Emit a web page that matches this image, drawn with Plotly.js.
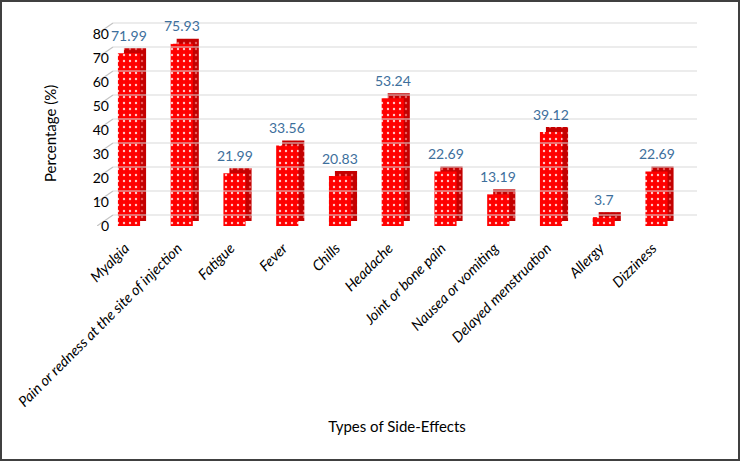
<!DOCTYPE html>
<html>
<head>
<meta charset="utf-8">
<script src="https://cdn.plot.ly/plotly-3.0.1.min.js"></script>
<style>
  html, body { margin: 0; padding: 0; background: #fff; }
  #wrap { position: relative; width: 740px; height: 461px; }
  #chart { width: 740px; height: 461px; }
  #frame { position: absolute; left: 0; top: 0; width: 740px; height: 461px; box-sizing: border-box; border: 2px solid #404040; pointer-events: none; }
</style>
</head>
<body>
<div id="wrap"><div id="chart"></div><div id="frame"></div></div>
<script>
// ---- data ----
const categories = [
  "Myalgia",
  "Pain or redness at the site of injection",
  "Fatigue",
  "Fever",
  "Chills",
  "Headache",
  "Joint or bone pain",
  "Nausea or vomiting",
  "Delayed menstruation",
  "Allergy",
  "Dizziness"
];
const values = [71.99, 75.93, 21.99, 33.56, 20.83, 53.24, 22.69, 13.19, 39.12, 3.7, 22.69];
const valueLabels = ["71.99", "75.93", "21.99", "33.56", "20.83", "53.24", "22.69", "13.19", "39.12", "3.7", "22.69"];
const yTicks = [0, 10, 20, 30, 40, 50, 60, 70, 80];
const xTitle = "Types of Side-Effects";
const yTitle = "Percentage (%)";

// ---- geometry (pixels) ----
const W = 740, H = 461, L = 30, R = 10, T = 5, B = 5;
const PW = W - L - R, PH = H - T - B;
const fx = px => (px - L) / PW;
const fy = py => (H - B - py) / PH;
const FONT = "Lato, 'Open Sans', sans-serif";
const catPx = 52.75;            // pixels per category
const firstCenterPx = 129;      // pixel x of first category centre
const pxPerUnit = 2.4;          // vertical pixels per percentage point
const baselinePx = 226;
const xLeftPx = 97, wallLeftPx = 113, wallRightPx = 697;
const toX = px => (px - firstCenterPx) / catPx;
const depthX = 6 / catPx;
const depthUp = 5 / pxPerUnit;
const wallShift = 11 / pxPerUnit;
const yMax = 85;
const GRID = "#d9d9d9";

const idx = categories.map((c, i) => i);

// back-wall grid lines and side-wall slanted segments, built from tick values
const wallX = [], wallY = [], sideX = [], sideY = [];
yTicks.forEach(t => {
  wallX.push(toX(wallLeftPx), toX(wallRightPx), null); wallY.push(t + wallShift, t + wallShift, null);
  sideX.push(toX(xLeftPx), toX(wallLeftPx), null); sideY.push(t, t + wallShift, null);
});

const traces = [
  { type: "scatter", x: wallX, y: wallY, mode: "lines",
    line: { color: GRID, width: 1 }, hoverinfo: "skip", showlegend: false },
  { type: "scatter", x: sideX, y: sideY, mode: "lines",
    line: { color: "#c4c4c4", width: 1.2 }, hoverinfo: "skip", showlegend: false },
  // depth (side/top faces)
  { type: "bar", x: idx, y: values, base: depthUp,
    width: 0.42, offset: -0.21 + depthX,
    marker: { color: "#c40000", line: { width: 0 },
      pattern: { shape: ".", fgcolor: "#e86060", bgcolor: "#c40000", size: 6, solidity: 0.12 } },
    hoverinfo: "skip", showlegend: false },
  // front faces
  { type: "bar", x: idx, y: values,
    width: 0.42, offset: -0.21,
    marker: { color: "#ff0000", line: { width: 0 },
      pattern: { shape: ".", fgcolor: "#ffc8c8", bgcolor: "#ff0000", size: 6, solidity: 0.12 } },
    showlegend: false }
];

const annotations = values.map((v, i) => ({
  x: idx[i], y: v, yshift: 18,
  text: valueLabels[i], showarrow: false,
  font: { family: FONT, size: 14, color: "#3d6f9c" }
}));
annotations.push({
  xref: "paper", yref: "paper", x: fx(50), y: fy(134), xanchor: "center", yanchor: "middle",
  text: yTitle, textangle: -90, showarrow: false,
  font: { family: FONT, size: 15, color: "#000" }
});

const layout = {
  width: W, height: H,
  margin: { l: L, r: R, t: T, b: B },
  paper_bgcolor: "#ffffff", plot_bgcolor: "rgba(0,0,0,0)",
  barmode: "overlay",
  showlegend: false,
  font: { family: FONT, size: 13, color: "#000" },
  xaxis: { domain: [fx(xLeftPx), fx(wallRightPx)], range: [toX(xLeftPx), toX(wallRightPx)],
    tickvals: idx, ticktext: categories,
    tickangle: -45, ticks: "", showgrid: false, zeroline: false, showline: false,
    tickfont: { family: FONT, size: 14.5, style: "italic", color: "#000" },
    ticklabelstandoff: 10, ticklabelshift: -4,
    title: { text: xTitle, font: { family: FONT, size: 15, color: "#000" }, standoff: 12 },
    fixedrange: true },
  yaxis: { domain: [fy(baselinePx), fy(baselinePx - yMax * pxPerUnit)], range: [0, yMax],
    tickvals: yTicks,
    showgrid: false, zeroline: false, showline: false, ticks: "",
    tickfont: { family: FONT, size: 14, color: "#000" },
    ticklabelstandoff: -13,
    fixedrange: true },
  annotations: annotations
};

Plotly.newPlot("chart", traces, layout, { displayModeBar: false, staticPlot: true });
</script>
</body>
</html>
